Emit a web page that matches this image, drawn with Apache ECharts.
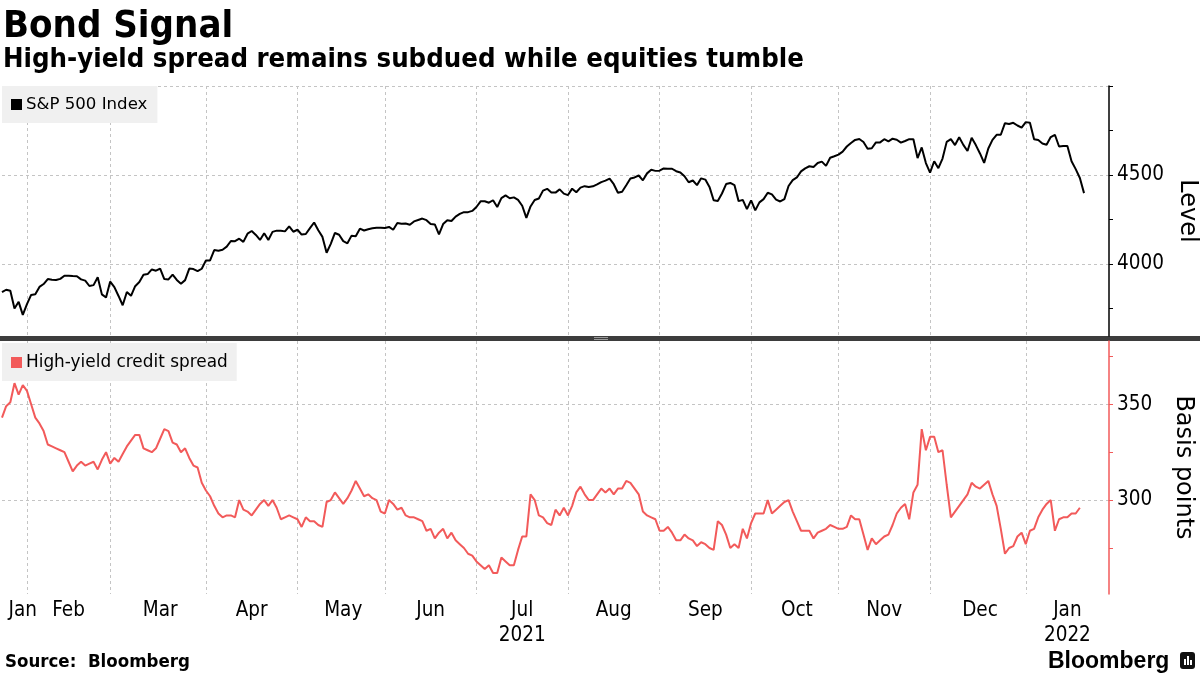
<!DOCTYPE html>
<html><head><meta charset="utf-8">
<script src="https://cdn.jsdelivr.net/npm/echarts@6/dist/echarts.min.js"></script>
<style>html,body{margin:0;padding:0;background:#fff}#c{width:1200px;height:675px}</style>
</head><body><div id="c"></div>
<script>
// ---- data ----
const START_DATE = '2021-01-22';
const END_DATE = '2022-01-31';
const monthNames = ['Jan','Feb','Mar','Apr','May','Jun','Jul','Aug','Sep','Oct','Nov','Dec'];
const yearLabels = {'2021-07': '2021', '2022-01': '2022'};

// S&P 500 Index, one value per weekday from 2021-01-22
const spxValues = [
 3841,3855,3849,3750,3787,3714,
 3774,3826,3830,3871,3887,3915,3911,3910,3916,3934,3934,3932,3931,3913,3906,3876,3881,3925,3829,3811,
 3901,3870,3820,3768,3842,3821,3875,3898,3939,3943,3969,3962,3974,3915,3913,3940,3910,3889,3909,3974,3971,3959,3973,
 4020,4020,4078,4074,4080,4097,4129,4128,4142,4124,4170,4185,4163,4135,4173,4135,4180,4187,4186,4183,4211,4181,
 4192,4165,4168,4201,4233,4189,4152,4063,4113,4174,4164,4128,4116,4159,4156,4198,4188,4195,4201,4204,4204,
 4202,4208,4192,4230,4226,4227,4220,4239,4247,4255,4246,4224,4222,4166,4224,4246,4241,4266,4281,4291,4291,4298,
 4320,4352,4352,4344,4358,4320,4370,4385,4369,4374,4360,4327,4259,4323,4359,4368,4412,4422,4402,4401,4419,4395,
 4387,4423,4403,4429,4437,4432,4436,4447,4460,4468,4479,4448,4400,4406,4442,4480,4486,4497,4470,4509,4529,4523,
 4524,4537,4535,4535,4521,4514,4493,4459,4469,4443,4481,4474,4433,4358,4354,4396,4449,4455,4443,4353,4360,4308,
 4357,4301,4346,4364,4400,4391,4361,4351,4364,4438,4471,4486,4520,4537,4549,4545,4567,4575,4551,4597,4605,
 4614,4631,4660,4680,4697,4702,4685,4647,4650,4683,4683,4701,4689,4704,4698,4682,4691,4701,4701,4595,4655,4567,
 4513,4577,4538,4592,4686,4701,4668,4712,4669,4635,4709,4668,4621,4568,4649,4697,4726,4726,4791,4786,4793,4778,4766,
 4797,4794,4701,4696,4677,4670,4713,4726,4660,4663,4663,4577,4533,4483,4398
];

// High-yield credit spread (bp), one value per weekday from 2021-01-22
const spreadValues = [
 343,349,351,361,355,360,357,350,343,340,336,329,328,327,326,325,320,315,318,320,
 318,319,320,316,321,325,319,322,320,324,328,331,334,334,327,326,325,327,332,337,
 336,330,329,325,327,322,318,317,309,305,302,297,293,291,292,292,291,300,295,294,
 292,295,298,300,297,300,296,290,291,292,291,290,286,291,289,289,287,286,299,300,
 304,301,298,301,305,310,306,302,303,301,300,294,293,300,298,295,296,292,291,291,
 290,289,284,285,280,283,285,280,283,279,277,275,272,271,268,266,264,266,262,262,
 270,268,266,266,274,281,281,303,300,292,291,288,287,295,292,296,292,297,304,307,
 303,300,300,303,306,304,306,303,306,306,310,309,306,303,294,292,291,290,284,284,
 286,283,279,279,282,280,279,276,278,277,275,274,289,287,282,275,277,275,285,280,
 288,293,293,293,300,293,295,297,299,300,294,289,284,284,284,280,283,284,285,287,
 286,285,285,286,292,290,290,282,274,280,277,279,281,282,287,293,296,298,290,304,
 308,337,326,333,333,325,326,308,291,294,297,300,303,309,307,306,308,310,303,297,
 285,272,275,276,281,283,277,284,285,291,295,298,300,284,290,291,291,293,293,296
];

const spxMin = 3595, spxMax = 5000;
const spxTicks = [3750, 4000, 4250, 4500, 4750, 5000];
const spxLabels = [4000, 4500];
const spxGridLines = [4000, 4500, 5000];
const spreadMin = 251, spreadMax = 383;
const spreadTicks = [275, 300, 325, 350, 375];
const spreadLabels = [300, 350];
const spreadGridLines = [300, 350];

// ---- build categories (weekdays) ----
function weekdays(s, e) {
  const out = [];
  let d = new Date(s + 'T00:00:00Z');
  const end = new Date(e + 'T00:00:00Z');
  while (d <= end) {
    const w = d.getUTCDay();
    if (w !== 0 && w !== 6) out.push(d.toISOString().slice(0, 10));
    d = new Date(d.getTime() + 86400000);
  }
  return out;
}
const categories = weekdays(START_DATE, END_DATE);
const monthStarts = new Set();
categories.forEach((d, i) => { if (i > 0 && d.slice(0, 7) !== categories[i - 1].slice(0, 7)) monthStarts.add(i); });
const bounds = [0, ...monthStarts, categories.length - 1];
const labelMap = {};
for (let k = 0; k < bounds.length - 1; k++) {
  const a = bounds[k], b = bounds[k + 1];
  let idx = Math.round((a + b) / 2);
  if (a === 0) idx = Math.max(idx, 5);
  const ym = categories[a].slice(0, 7);
  labelMap[idx] = monthNames[+ym.slice(5) - 1] + (yearLabels[ym] ? '\n' + yearLabels[ym] : '');
}

const FONT = "'DejaVu Sans Condensed', 'DejaVu Sans', sans-serif";
const FONT_R = "'DejaVu Sans', sans-serif";
const RED = '#f25a5a';
const GRID_LINE = { show: true, lineStyle: { color: '#c4c4c4', type: [3, 3], width: 1 } };

const chart = echarts.init(document.getElementById('c'), null, { renderer: 'canvas' });

function xAxisCfg(gridIndex, showLabels) {
  return {
    type: 'category', gridIndex, data: categories, boundaryGap: false,
    axisLine: { show: false }, axisTick: { show: false },
    axisLabel: showLabels ? {
      show: true, interval: (i) => labelMap[i] !== undefined,
      formatter: (v, i) => labelMap[i], color: '#000', fontFamily: FONT, fontSize: 20.5,
      lineHeight: 25, margin: 4
    } : { show: false },
    splitLine: { show: true, interval: (i) => monthStarts.has(i), lineStyle: GRID_LINE.lineStyle }
  };
}
const plain = (v) => String(v);

chart.setOption({
  animation: false,
  backgroundColor: '#fff',
  grid: [
    { left: 2, right: 91, top: 86, height: 250, outerBoundsMode: 'none', containLabel: false },
    { left: 2, right: 91, top: 341, height: 253, outerBoundsMode: 'none', containLabel: false }
  ],
  xAxis: [xAxisCfg(0, false), xAxisCfg(1, true)],
  yAxis: [
    { type: 'value', gridIndex: 0, position: 'right', min: spxMin, max: spxMax,
      axisLine: { show: true, lineStyle: { color: '#000', width: 1.5 } },
      axisTick: { show: true, customValues: spxTicks, length: 4, lineStyle: { color: '#000' } },
      axisLabel: { show: true, customValues: spxLabels, formatter: plain, color: '#000', fontFamily: FONT, fontSize: 20.5, margin: 8 },
      splitLine: { show: false },
      name: 'Level', nameLocation: 'middle', nameRotate: -90, nameGap: 62,
      nameTextStyle: { color: '#000', fontFamily: FONT_R, fontSize: 24 } },
    { type: 'value', gridIndex: 0, position: 'right', min: spxMin, max: spxMax,
      axisLine: { show: false }, axisLabel: { show: false },
      axisTick: { show: false, customValues: spxGridLines },
      splitLine: GRID_LINE },
    { type: 'value', gridIndex: 1, position: 'right', min: spreadMin, max: spreadMax,
      axisLine: { show: true, lineStyle: { color: RED, width: 1.5 } },
      axisTick: { show: true, customValues: spreadTicks, length: 4, lineStyle: { color: RED } },
      axisLabel: { show: true, customValues: spreadLabels, formatter: plain, color: '#000', fontFamily: FONT, fontSize: 20.5, margin: 8 },
      splitLine: { show: false },
      name: 'Basis points', nameLocation: 'middle', nameRotate: -90, nameGap: 62,
      nameTextStyle: { color: '#000', fontFamily: FONT_R, fontSize: 24 } },
    { type: 'value', gridIndex: 1, position: 'right', min: spreadMin, max: spreadMax,
      axisLine: { show: false }, axisLabel: { show: false },
      axisTick: { show: false, customValues: spreadGridLines },
      splitLine: GRID_LINE }
  ],
  legend: [
    { data: ['S&P 500 Index'], left: 2, top: 86, backgroundColor: '#f0f0f0', padding: [10, 10, 10, 9],
      icon: 'rect', itemWidth: 11, itemHeight: 11, itemGap: 4, selectedMode: false,
      textStyle: { color: '#000', fontFamily: FONT_R, fontSize: 16.6, padding: [0, 0, 0, -1] } },
    { data: ['High-yield credit spread'], left: 2, top: 343, backgroundColor: '#f0f0f0', padding: [11, 9, 10, 9],
      icon: 'rect', itemWidth: 11, itemHeight: 11, itemGap: 4, selectedMode: false,
      textStyle: { color: '#000', fontFamily: FONT_R, fontSize: 16.9, padding: [0, 0, 0, -1] } }
  ],
  series: [
    { name: 'S&P 500 Index', type: 'line', xAxisIndex: 0, yAxisIndex: 0, data: spxValues,
      showSymbol: false, symbol: 'none', color: '#000', lineStyle: { color: '#000', width: 2 } },
    { name: 'High-yield credit spread', type: 'line', xAxisIndex: 1, yAxisIndex: 2, data: spreadValues,
      showSymbol: false, symbol: 'none', color: RED, lineStyle: { color: RED, width: 2 } }
  ],
  graphic: [
    { type: 'text', left: 3, top: 8, style: { text: 'Bond Signal', fill: '#000', font: "bold 38px " + FONT } },
    { type: 'text', left: 3, top: 46, style: { text: 'High-yield spread remains subdued while equities tumble', fill: '#000', font: "bold 27.3px " + FONT } },
    { type: 'rect', left: 0, top: 336, shape: { width: 1200, height: 5 }, style: { fill: '#3d3d3d' } },
    { type: 'rect', left: 594, top: 337, shape: { width: 14, height: 1 }, style: { fill: '#9a9a9a' } },
    { type: 'rect', left: 594, top: 339, shape: { width: 14, height: 1 }, style: { fill: '#9a9a9a' } },
    { type: 'text', left: 5, top: 653, style: { text: 'Source:  Bloomberg', fill: '#000', font: "bold 18.5px " + FONT } },
    { type: 'text', left: 1048, top: 650, style: { text: 'Bloomberg', fill: '#000', font: "bold 23px 'Liberation Sans', Arial, sans-serif" } },
    { type: 'rect', left: 1180, top: 652, shape: { width: 15, height: 17, r: 3 }, style: { fill: '#111' } },
    { type: 'rect', left: 1184, top: 659, shape: { width: 2, height: 6 }, style: { fill: '#fff' } },
    { type: 'rect', left: 1187, top: 656, shape: { width: 2, height: 9 }, style: { fill: '#fff' } },
    { type: 'rect', left: 1190, top: 660, shape: { width: 2, height: 5 }, style: { fill: '#fff' } }
  ]
});
</script></body></html>
